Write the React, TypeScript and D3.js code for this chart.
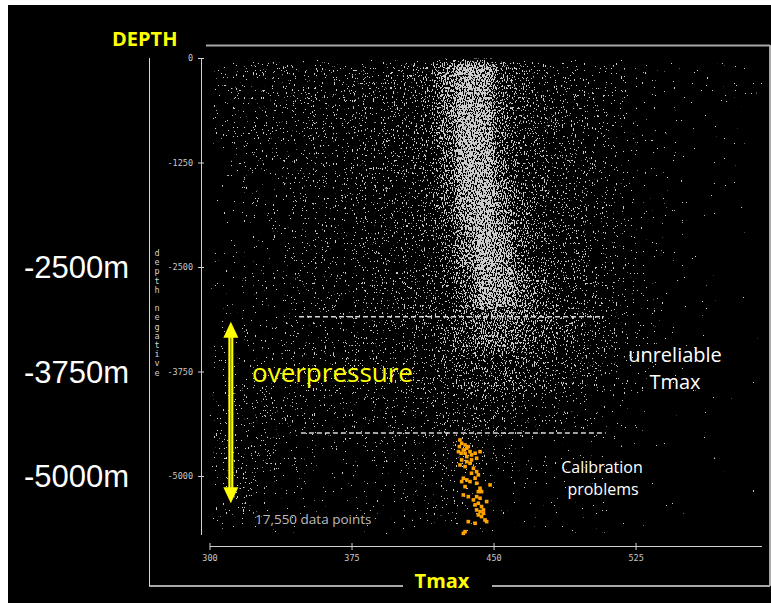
import React from 'react';
import * as d3 from 'd3';

// density grid: Tmax bin starts (10 deg wide) and depth bin tops (500 m tall)
const tmaxBins = [300, 310, 320, 330, 340, 350, 360, 370, 380, 390, 400, 410, 420, 430, 440,
  450, 460, 470, 480, 490, 500, 510, 520, 530, 540, 550, 560, 570, 580];
const depthBins = [0, -500, -1000, -1500, -2000, -2500, -3000, -3500, -4000, -4500, -5000, -5500];

// relative point density per cell
const dens0 = [0.30, 0.36, 0.38, 0.38, 0.38, 0.40, 0.40, 0.40, 0.42, 0.44, 0.46, 0.50, 0.70, 0.85, 0.80, 0.55, 0.48, 0.44, 0.40, 0.38, 0.36, 0.34, 0.30, 0.28, 0.25, 0.22, 0.20, 0.20, 0.18];
const dens500 = [0.30, 0.32, 0.34, 0.36, 0.36, 0.38, 0.38, 0.40, 0.40, 0.42, 0.44, 0.48, 0.68, 0.85, 0.82, 0.56, 0.48, 0.44, 0.41, 0.40, 0.37, 0.33, 0.28, 0.25, 0.22, 0.20, 0.18, 0.16, 0.15];
const dens1000 = [0.26, 0.30, 0.32, 0.34, 0.36, 0.36, 0.38, 0.38, 0.40, 0.40, 0.42, 0.46, 0.62, 0.85, 0.85, 0.60, 0.49, 0.45, 0.42, 0.40, 0.37, 0.33, 0.28, 0.24, 0.20, 0.18, 0.16, 0.15, 0.14];
const dens1500 = [0.22, 0.26, 0.30, 0.32, 0.34, 0.36, 0.36, 0.38, 0.38, 0.40, 0.40, 0.44, 0.55, 0.80, 0.88, 0.68, 0.51, 0.46, 0.42, 0.40, 0.37, 0.32, 0.27, 0.22, 0.18, 0.16, 0.15, 0.14, 0.13];
const dens2000 = [0.20, 0.24, 0.28, 0.30, 0.32, 0.34, 0.36, 0.36, 0.38, 0.38, 0.40, 0.42, 0.50, 0.72, 0.88, 0.78, 0.56, 0.48, 0.44, 0.41, 0.37, 0.32, 0.27, 0.22, 0.18, 0.16, 0.14, 0.13, 0.12];
const dens2500 = [0.22, 0.26, 0.28, 0.30, 0.32, 0.34, 0.36, 0.36, 0.38, 0.38, 0.40, 0.42, 0.48, 0.62, 0.80, 0.80, 0.66, 0.52, 0.46, 0.43, 0.39, 0.34, 0.29, 0.24, 0.20, 0.17, 0.15, 0.13, 0.12];
const dens3000 = [0.26, 0.29, 0.31, 0.32, 0.34, 0.35, 0.36, 0.38, 0.38, 0.40, 0.42, 0.44, 0.48, 0.56, 0.64, 0.66, 0.61, 0.54, 0.48, 0.44, 0.40, 0.36, 0.31, 0.26, 0.22, 0.18, 0.15, 0.13, 0.12];
const dens3500 = [0.30, 0.31, 0.32, 0.33, 0.34, 0.34, 0.35, 0.36, 0.36, 0.38, 0.40, 0.42, 0.44, 0.48, 0.52, 0.52, 0.50, 0.47, 0.44, 0.42, 0.38, 0.33, 0.28, 0.24, 0.20, 0.17, 0.14, 0.12, 0.11];
const dens4000 = [0.34, 0.36, 0.36, 0.35, 0.34, 0.34, 0.34, 0.34, 0.34, 0.35, 0.36, 0.38, 0.40, 0.42, 0.42, 0.40, 0.38, 0.36, 0.35, 0.34, 0.32, 0.28, 0.24, 0.20, 0.18, 0.16, 0.14, 0.12, 0.11];
const dens4500 = [0.36, 0.36, 0.35, 0.33, 0.30, 0.28, 0.28, 0.28, 0.28, 0.30, 0.31, 0.33, 0.36, 0.36, 0.34, 0.30, 0.28, 0.27, 0.27, 0.27, 0.25, 0.22, 0.18, 0.15, 0.13, 0.12, 0.11, 0.10, 0.10];
const dens5000 = [0.34, 0.34, 0.32, 0.29, 0.26, 0.24, 0.23, 0.23, 0.24, 0.26, 0.28, 0.31, 0.33, 0.30, 0.27, 0.24, 0.23, 0.23, 0.23, 0.22, 0.20, 0.17, 0.14, 0.12, 0.11, 0.10, 0.10, 0.10, 0.10];
const dens5500 = [0.30, 0.30, 0.27, 0.24, 0.21, 0.20, 0.20, 0.20, 0.21, 0.22, 0.24, 0.27, 0.28, 0.25, 0.21, 0.19, 0.18, 0.18, 0.17, 0.16, 0.14, 0.12, 0.11, 0.10, 0.10, 0.10, 0.10, 0.10, 0.10];
const densityRows = [dens0, dens500, dens1000, dens1500, dens2000, dens2500, dens3000, dens3500,
  dens4000, dens4500, dens5000, dens5500];

// orange calibration samples [Tmax, depth]
const calibTmax = [432.0, 432.9, 431.7, 434.7, 435.6, 433.8, 436.4, 432.6, 434.7, 437.3, 431.2, 435.6,
  438.1, 440.0, 442.6, 432.9, 435.6, 438.1, 440.8, 432.0, 434.7, 437.3, 439.1, 440.8, 438.1, 441.7,
  440.0, 433.8, 435.6, 432.9, 437.3, 440.8, 434.7, 442.6, 443.4, 441.7, 433.8, 440.8, 442.6, 441.7,
  440.0, 443.4, 446.1, 440.8, 442.6, 444.4, 441.7, 443.4, 445.2, 446.1, 440.0, 436.4, 434.7, 433.8,
  447.9, 436.4, 439.1, 444.4];
const calibDepth = [-4563, -4603, -4643, -4623, -4663, -4683, -4643, -4722, -4722, -4703, -4703, -4762,
  -4742, -4722, -4703, -4802, -4822, -4802, -4782, -4862, -4882, -4842, -4902, -4942, -4961, -4981,
  -5021, -5021, -5041, -5061, -5061, -5081, -5121, -5141, -5181, -5181, -5221, -5241, -5260, -5320,
  -5340, -5360, -5300, -5400, -5420, -5440, -5460, -5480, -5520, -5540, -5560, -5540, -5660, -5680,
  -5101, -5241, -5280, -5400];

const yTicks = [0, -1250, -2500, -3750, -5000];
const xTicks = [300, 375, 450, 525];
const sideDepths = [-2500, -3750, -5000];
const sideLabels = ['-2500m', '-3750m', '-5000m'];
const yTitle = 'depth negative';

// annotations in data units
const dashLines = [
  { depth: -3090, from: 347, to: 508 },
  { depth: -4480, from: 348, to: 509 },
];
const arrowTmax = 311;
const arrowDepths = [-3150, -5320];

const App = () => {
  const x = d3.scaleLinear().domain([300, 591.5]).range([210, 762]);
  const y = d3.scaleLinear().domain([0, -5700]).range([58.5, 535]);
  const [px0, px1] = x.range();
  const [py0, py1] = y.range();

  const cells: { t: number; d: number; v: number }[] = [];
  densityRows.forEach((row, i) => {
    row.forEach((v, j) => cells.push({ t: tmaxBins[j], d: depthBins[i], v }));
  });

  const ax = x(arrowTmax);
  const aTop = y(arrowDepths[0]);
  const aBot = y(arrowDepths[1]);
  const yellow = '#ffff00';
  const sans = '"Open Sans", "DejaVu Sans", sans-serif';
  const mono = '"DejaVu Sans Mono", monospace';

  return (
    <div style={{ position: 'absolute', left: 0, top: 0 }}>
      <svg width={771} height={603} style={{ display: 'block' }}>
        <defs>
          <clipPath id="plotClip">
            <rect x={px0} y={py0} width={px1 - px0} height={py1 - py0} />
          </clipPath>
          <filter id="speckle" x={px0} y={py0} width={px1 - px0} height={py1 - py0}
            filterUnits="userSpaceOnUse" colorInterpolationFilters="sRGB">
            <feGaussianBlur in="SourceAlpha" stdDeviation="4" result="dens" />
            <feTurbulence type="fractalNoise" baseFrequency="0.9 0.4" numOctaves="2" seed="7" result="noise" />
            <feColorMatrix in="noise" type="matrix"
              values="0 0 0 0 0  0 0 0 0 0  0 0 0 0 0  1.875 0 0 0 -0.655" result="n" />
            <feComposite in="dens" in2="n" operator="arithmetic" k1="0" k2="1" k3="1" k4="-1" result="sum" />
            <feComponentTransfer in="sum" result="bin">
              <feFuncA type="linear" slope="30" intercept="0" />
            </feComponentTransfer>
            <feColorMatrix in="bin" type="matrix"
              values="0 0 0 0 0.8  0 0 0 0 0.8  0 0 0 0 0.8  0 0 0 1 0" />
          </filter>
        </defs>

        <rect x={0} y={0} width={771} height={603} fill="#fff" />
        <rect x={8} y={5} width={763} height={598} fill="#000" />

        {/* outer frame */}
        <g stroke="#a8a8a8" strokeWidth={2} fill="none">
          <line x1={206} y1={45.5} x2={770} y2={45.5} />
          <line x1={770} y1={45} x2={770} y2={586} />
          <line x1={149} y1={586} x2={403} y2={586} />
          <line x1={492} y1={586} x2={770} y2={586} />
        </g>
        <line x1={149.5} y1={58} x2={149.5} y2={586} stroke="#d8d8d8" strokeWidth={1} />

        <text x={112} y={46} fill={yellow} fontFamily={sans} fontWeight={700} fontSize={20}>DEPTH</text>
        <text x={442} y={588} fill={yellow} fontFamily={sans} fontWeight={700} fontSize={20} textAnchor="middle">Tmax</text>

        {/* point cloud */}
        <g clipPath="url(#plotClip)">
          <g filter="url(#speckle)">
            {cells.map((c, i) => (
              <rect key={i} x={x(c.t)} y={y(c.d)} width={x(c.t + 10) - x(c.t)} height={y(c.d - 500) - y(c.d)}
                fill="#fff" fillOpacity={c.v} />
            ))}
          </g>
        </g>

        {/* y axis */}
        <line x1={201.5} y1={py0} x2={201.5} y2={py1} stroke="#cfcfcf" strokeWidth={1} />
        {yTicks.map((t) => (
          <g key={t}>
            <line x1={198} y1={y(t)} x2={204} y2={y(t)} stroke="#cfcfcf" />
            <text x={193} y={y(t)} dy="0.35em" textAnchor="end" fill="#c8c8c8" fontFamily={mono} fontSize={8.5}>{t}</text>
          </g>
        ))}
        {yTitle.split('').map((ch, i) => (
          <text key={i} x={157} y={256 + i * 9.2} textAnchor="middle" fill="#d0d0d0" fontFamily={mono} fontSize={8.5}>{ch}</text>
        ))}

        {/* x axis */}
        <line x1={px0} y1={546.5} x2={px1} y2={546.5} stroke="#cfcfcf" strokeWidth={1} />
        {xTicks.map((t) => (
          <g key={t}>
            <line x1={x(t)} y1={543} x2={x(t)} y2={550} stroke="#cfcfcf" />
            <text x={x(t)} y={558} dy="0.35em" textAnchor="middle" fill="#c8c8c8" fontFamily={mono} fontSize={8.5}>{t}</text>
          </g>
        ))}

        {/* dashed limits */}
        {dashLines.map((l, i) => (
          <line key={i} x1={x(l.from)} y1={y(l.depth)} x2={x(l.to)} y2={y(l.depth)}
            stroke="#d8d8d8" strokeWidth={1.5} strokeDasharray="5 3" />
        ))}

        {/* calibration points */}
        {calibTmax.map((t, i) => (
          <rect key={i} x={x(t) - 1.8} y={y(calibDepth[i]) - 1.8} width={3.6} height={3.6} fill="#ffa500" />
        ))}

        {/* overpressure arrow */}
        <rect x={ax - 2.5} y={aTop + 14} width={5} height={aBot - aTop - 28} fill={yellow} />
        <line x1={ax} y1={aTop + 14} x2={ax} y2={aBot - 14} stroke="#707000" strokeWidth={1} />
        <polygon points={`${ax},${aTop} ${ax - 7.5},${aTop + 16} ${ax + 7.5},${aTop + 16}`} fill={yellow} />
        <polygon points={`${ax},${aBot} ${ax - 7.5},${aBot - 16} ${ax + 7.5},${aBot - 16}`} fill={yellow} />

        <text x={252} y={382} fill={yellow} fontFamily={sans} fontSize={26}>overpressure</text>
        <text x={675} y={362} fill="#fff" fontFamily={sans} fontSize={20} textAnchor="middle">unreliable</text>
        <text x={675} y={389} fill="#fff" fontFamily={sans} fontSize={20} textAnchor="middle">Tmax</text>
        <text x={602} y={473} fill="#fff" fontFamily={sans} fontSize={16} textAnchor="middle">Calibration</text>
        <text x={603} y={495} fill="#fff" fontFamily={sans} fontSize={16} textAnchor="middle">problems</text>
        <text x={255} y={524} fill="#bdbdbd" fontFamily={sans} fontSize={13.5}>17,550 data points</text>

        {sideLabels.map((s, i) => (
          <text key={s} x={24} y={y(sideDepths[i]) + 11} fill="#fff"
            fontFamily='"Liberation Sans", Arial, sans-serif' fontSize={31}>{s}</text>
        ))}
      </svg>
    </div>
  );
};

export default App;
